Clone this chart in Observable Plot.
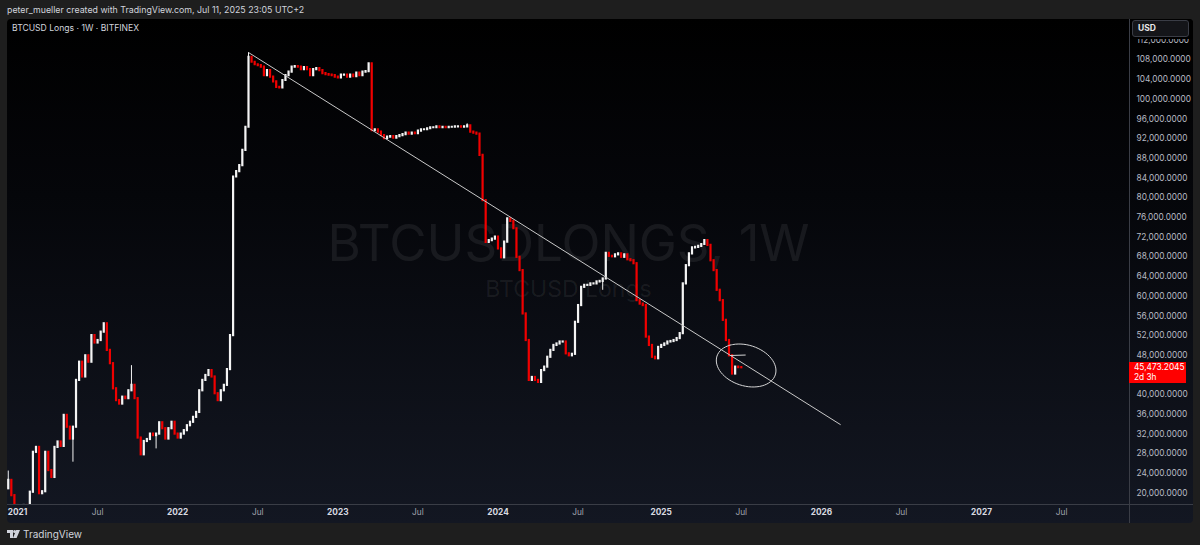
<!DOCTYPE html>
<html>
<head>
<meta charset="utf-8">
<script src="https://cdn.jsdelivr.net/npm/d3@7"></script>
<script src="https://cdn.jsdelivr.net/npm/@observablehq/plot@0.6"></script>
<style>
  html, body { margin: 0; padding: 0; width: 1200px; height: 545px; overflow: hidden; background: #1e1e1e; font-family: Inter, Roboto, "Liberation Sans", sans-serif; }
  #credit { position: absolute; left: 7px; top: 4px; font-size: 8.8px; color: #d1d4dc; white-space: nowrap; }
  #pane { position: absolute; left: 7px; top: 19px; width: 1186px; height: 504px; border-radius: 4px; overflow: hidden;
          background: linear-gradient(to bottom, #000000 0%, #05060a 35%, #131722 100%); }
  #pane svg { position: absolute; left: 0; top: 0; }
  #vsep { position: absolute; left: 1122px; top: 0; width: 1px; height: 504px; background: #3a3d46; }
  #hsep { position: absolute; left: 0; top: 485px; width: 1186px; height: 1px; background: #3a3d46; }
  #title { position: absolute; left: 5px; top: 4px; font-size: 8.6px; color: #d1d4dc; white-space: nowrap; }
  #unitband { position: absolute; left: 1123px; top: 0; width: 63px; height: 20px; background: #000000; }
  #unit { position: absolute; left: 1125px; top: 1px; width: 57px; height: 17px; box-sizing: border-box; border: 1px solid #3a3d46; border-radius: 3px;
          background: #141519; color: #e8e8e8; font-size: 8.5px; font-weight: bold; line-height: 15px; padding-left: 5px; }
  #last { position: absolute; left: 1122px; width: 57px; height: 21px; background: #ff0000; color: #fff; font-size: 8.3px; line-height: 9.5px; padding: 1px 0 0 5px; box-sizing: border-box; white-space: nowrap; }
  #brand { position: absolute; left: 7px; top: 528px; display: flex; align-items: center; gap: 3px; font-size: 10px; color: #d1d4dc; }
</style>
</head>
<body>
<div id="credit">peter_mueller created with TradingView.com, Jul 11, 2025 23:05 UTC+2</div>
<div id="pane">
  <div id="title">BTCUSD Longs · 1W · BITFINEX</div>
  <div id="vsep"></div>
  <div id="hsep"></div>
  <div id="unitband"></div>
  <div id="unit">USD</div>
</div>
<div id="brand">
  <svg width="13" height="8" viewBox="0 0 13 8"><path d="M0 0h6v8h-3v-5h-3z" fill="#d1d4dc"/><circle cx="7.6" cy="1.5" r="1.5" fill="#d1d4dc"/><path d="M9.2 0h3.8l-3.4 8h-3.6z" fill="#d1d4dc"/></svg>
  <span>TradingView</span>
</div>
<script>
// Weekly candles of BTCUSD Longs (Bitfinex), one close per week starting Monday 2020-12-14
const firstWeek = "2020-12-14";
const firstOpen = 20900;
const closes = [
  22600,19500,17500,16000,16500,17500,17000,20200,28300,29300,
  19900,20300,28300,24600,23200,29300,30400,29500,35800,33400,
  31000,33400,42900,46600,43600,47900,46600,52000,50500,51000,
  52700,54400,49000,46300,41200,38800,38100,39500,39200,40800,
  41900,39200,31200,27800,30500,30900,32000,31700,32000,34300,
  33100,31000,33100,34400,32000,31200,32000,32700,33700,34400,
  35400,36400,40800,42900,43900,44900,43600,40200,38800,40800,
  41900,45100,52000,84200,85300,86500,89600,94300,
  108500,107500,107000,106800,106500,104800,105800,104500,103500,102400,
  102300,103800,104800,105500,106500,106600,106500,106000,106400,106000,
  104800,106000,106200,105800,105200,105000,104900,104800,104500,104300,
  104900,104900,104500,104900,104600,105300,104800,105500,105600,107200,
  93600,93800,93300,92600,92000,92300,92400,92100,92400,92600,
  92800,93100,92900,93100,93000,93500,93800,93800,94000,94200,
  94200,94400,94200,94300,94200,94300,94300,94400,94400,94300,
  94400,94600,93300,93100,92900,88600,79400,
  70900,71300,71600,72000,69600,67800,71000,75700,75200,73700,
  67900,65200,56400,51000,42900,43500,42900,42500,44900,45600,
  47600,49000,50000,50300,50700,50700,48300,47900,48200,54700,
  58100,61800,62200,62200,62500,62500,62900,63000,63500,68700,
  68100,68000,68400,68600,67900,68400,67400,67200,66600,59100,
  58400,58100,51700,50000,47600,47300,49600,50000,50300,50700,
  50800,51000,51400,52400,62500,66200,68600,69800,69900,70100,
  70500,71300,70300,67200,65200,61200,59100,55100,51000,47900,
  44200,45600,45500,45473.2045
];
// Wicks that reach beyond the candle bodies
const wickHighs = [
  {week: "2020-12-14", value: 24500},
  {week: "2021-09-20", value: 45900},
  {week: "2022-06-13", value: 109480},
  {week: "2023-10-23", value: 95000}
];
const wickLows = [
  {week: "2021-05-10", value: 26300},
  {week: "2021-11-15", value: 29000},
  {week: "2024-08-26", value: 61200}
];
// Hand-drawn trend line from the 2022 top, and the ring around the latest candles
const trendLine = [
  {week: "2022-06-13", value: 109480},
  {week: "2026-02-17", value: 33950}
];
const ring = {week: "2025-07-18", value: 45930, halfDays: 66, halfValue: 4370, skewDays: 16};
const ringStroke = [
  {week: "2025-06-12", value: 47960},
  {week: "2025-07-16", value: 48050}
];
// Axis labels
const yTicks = d3.range(20000, 112001, 4000);
const yearTicks = [
  {week: "2021-01-04", label: "2021"}, {week: "2022-01-03", label: "2022"}, {week: "2023-01-02", label: "2023"},
  {week: "2024-01-01", label: "2024"}, {week: "2025-01-06", label: "2025"}, {week: "2026-01-05", label: "2026"},
  {week: "2027-01-04", label: "2027"}
];
const monthTicks = [
  {week: "2021-07-05", label: "Jul"}, {week: "2022-07-04", label: "Jul"}, {week: "2023-07-03", label: "Jul"},
  {week: "2024-07-01", label: "Jul"}, {week: "2025-07-07", label: "Jul"}, {week: "2026-07-06", label: "Jul"},
  {week: "2027-07-05", label: "Jul"}
];

const day = 864e5;
const parse = d3.utcParse("%Y-%m-%d");
const start = parse(firstWeek);
const highBy = new Map(wickHighs.map(d => [d.week, d.value]));
const lowBy = new Map(wickLows.map(d => [d.week, d.value]));
const candles = closes.map((close, i) => {
  const week = d3.utcDay.offset(start, 7 * i);
  const key = d3.utcFormat("%Y-%m-%d")(week);
  const open = i === 0 ? firstOpen : closes[i - 1];
  const high = Math.max(open, close, highBy.get(key) ?? -Infinity);
  const low = Math.min(open, close, lowBy.get(key) ?? Infinity);
  return {week, open, close, high, low, up: close >= open};
});
const last = candles[candles.length - 1];
const up = "#f4f4f4", down = "#f00000";
const color = d => d.up ? up : down;

const ringCenter = parse(ring.week);
const ringPoints = d3.range(0, 65).map(k => {
  const t = (k / 64) * 2 * Math.PI + 1.9;
  return {
    week: new Date(+ringCenter + (Math.cos(t) * ring.halfDays - Math.sin(t) * ring.skewDays) * day),
    value: ring.value + Math.sin(t) * ring.halfValue
  };
});

// Time axis: first week of 2021 sits 10 px right of the pane edge, 0.44 px per day
const anchor = parse("2021-01-04");
const xDomain = [new Date(+anchor - (10 / 0.44) * day), new Date(+anchor + (1112 / 0.44) * day)];
const yDomain = [17706, 116183];
// price labels hidden under the last-price tag are left out
const pxPerUnit = 485 / (yDomain[1] - yDomain[0]);
const shownTicks = yTicks.filter(v => Math.abs(v - last.close) * pxPerUnit > 12);

const font = "Inter, Roboto, 'Liberation Sans', sans-serif";
const chart = Plot.plot({
  width: 1186,
  height: 504,
  marginLeft: 0,
  marginRight: 64,
  marginTop: 0,
  marginBottom: 19,
  style: {background: "transparent", fontFamily: font, overflow: "visible"},
  x: {type: "utc", domain: xDomain, axis: null},
  y: {type: "linear", domain: yDomain, axis: null},
  marks: [
    Plot.text(["BTCUSDLONGS, 1W"], {frameAnchor: "middle", dy: -17, fontSize: 51, fill: "#ffffff", fillOpacity: 0.07}),
    Plot.text(["BTCUSD Longs"], {frameAnchor: "middle", dy: 28, fontSize: 23, fill: "#ffffff", fillOpacity: 0.07}),
    Plot.ruleX(candles, {x: "week", y1: "low", y2: "high", stroke: color, strokeWidth: 1, clip: true}),
    Plot.ruleX(candles, {x: "week", y1: "open", y2: "close", stroke: color, strokeWidth: 2.2, strokeLinecap: "square", clip: true}),
    Plot.line(trendLine, {x: d => parse(d.week), y: "value", stroke: "#c9c9c9", strokeWidth: 1}),
    Plot.line(ringPoints, {x: "week", y: "value", stroke: "#d6d6d6", strokeWidth: 1, curve: "basis"}),
    Plot.line(ringStroke, {x: d => parse(d.week), y: "value", stroke: "#d6d6d6", strokeWidth: 1}),
    Plot.text(shownTicks, {y: d => d, text: d3.format(",.4f"), frameAnchor: "right", dx: 7, textAnchor: "start", fontSize: 8.3, fill: "#b8bbc4"}),
    Plot.text(yearTicks, {x: d => parse(d.week), text: "label", frameAnchor: "bottom", dy: 10, fontSize: 8.3, fontWeight: "bold", fill: "#d8dae0"}),
    Plot.text(monthTicks, {x: d => parse(d.week), text: "label", frameAnchor: "bottom", dy: 10, fontSize: 8.3, fill: "#a3a6af"})
  ]
});
const pane = document.getElementById("pane");
pane.insertBefore(chart, pane.firstChild);

// Last-price tag on the price scale
const tag = document.createElement("div");
tag.id = "last";
tag.style.top = (chart.scale("y").apply(last.close) - 5) + "px";
tag.innerHTML = d3.format(",.4f")(last.close) + "<br>2d 3h";
pane.appendChild(tag);
</script>
</body>
</html>
